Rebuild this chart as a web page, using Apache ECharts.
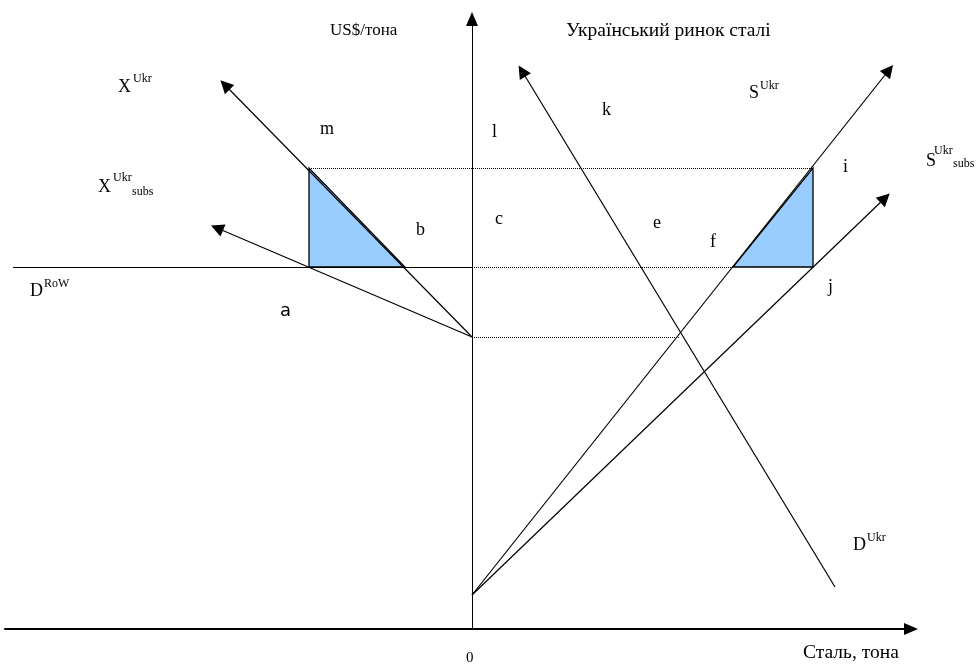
<!DOCTYPE html>
<html><head><meta charset="utf-8">
<script src="https://cdn.jsdelivr.net/npm/echarts@6/dist/echarts.min.js"></script>
<style>html,body{margin:0;padding:0;background:#fff}#c{width:977px;height:665px}</style>
</head><body><div id="c"></div>
<script>
// Schematic values (abstract units: quantity on x, price on y; 0 = axes origin)
const priceWorld = 362;      // D^RoW level
const priceSubs = 461;       // subsidised price level
const priceAutarky = 292;    // domestic equilibrium level
const supplyUkr = [[0, 34], [417, 559]];
const supplyUkrSubs = [[0, 34], [413, 431]];
const demandUkr = [[50, 558], [363, 42]];
const exportUkr = [[0, 292], [-247, 544]];
const exportUkrSubs = [[0, 292], [-255, 401]];
const demandRoW = [[-459, priceWorld], [0, priceWorld]];
const dottedLines = [
  [[-163, priceSubs], [341, priceSubs]],
  [[0, priceWorld], [261, priceWorld]],
  [[0, priceAutarky], [208, priceAutarky]]
];
const leftTriangle = [[-163, priceSubs], [-163, priceWorld], [-67, priceWorld]];
const rightTriangle = [[261, priceWorld], [341, priceWorld], [341, priceSubs]];
const triangles = [leftTriangle, rightTriangle];

const chart = echarts.init(document.getElementById('c'));
const SERIF = 'Liberation Serif';
function lbl(x, base, text, fs, fam) {
  return { type: 'text', x: x, y: base - 0.32 * fs, silent: true, z: 100,
    style: { text: text, fontSize: fs, fontFamily: fam || SERIF, fill: '#000', align: 'left', verticalAlign: 'middle' } };
}
const arrowLine = (coords) => ({ coords: coords });

chart.setOption({
  animation: false,
  backgroundColor: '#fff',
  grid: { left: 5, right: 66, top: 19, bottom: 36 },
  xAxis: {
    type: 'value', min: -467, max: 439,
    axisLine: { show: true, onZero: false, symbol: ['none', 'triangle'], symbolSize: [12, 14], lineStyle: { color: '#000', width: 2 } },
    axisTick: { show: false }, axisLabel: { show: false }, splitLine: { show: false }
  },
  yAxis: {
    type: 'value', min: 0, max: 610,
    axisLine: { show: true, onZero: true, symbol: ['none', 'triangle'], symbolSize: [12, 14], lineStyle: { color: '#000', width: 1 } },
    axisTick: { show: false }, axisLabel: { show: false }, splitLine: { show: false }
  },
  series: [
    {
      type: 'custom', coordinateSystem: 'cartesian2d', silent: true, z: 1,
      data: triangles.map((t, i) => i),
      renderItem: function (params, api) {
        const pts = triangles[params.dataIndex].map(p => api.coord(p));
        return { type: 'polygon', shape: { points: pts },
          style: { fill: '#99ccff', stroke: '#000', lineWidth: 1.3 } };
      }
    },
    {
      type: 'lines', coordinateSystem: 'cartesian2d', silent: true, z: 2,
      symbol: ['none', 'none'],
      lineStyle: { color: '#000', width: 1, type: 'dotted', opacity: 1 },
      data: dottedLines.map(arrowLine)
    },
    {
      type: 'lines', coordinateSystem: 'cartesian2d', silent: true, z: 3,
      symbol: ['none', 'none'],
      lineStyle: { color: '#000', width: 1.2, opacity: 1 },
      data: [demandRoW].map(arrowLine)
    },
    {
      type: 'lines', coordinateSystem: 'cartesian2d', silent: true, z: 3,
      symbol: ['none', 'triangle'], symbolSize: 13,
      lineStyle: { color: '#000', width: 1.2, opacity: 1 },
      data: [supplyUkr, supplyUkrSubs, exportUkr, exportUkrSubs].map(arrowLine)
    },
    {
      type: 'lines', coordinateSystem: 'cartesian2d', silent: true, z: 3,
      symbol: ['triangle', 'none'], symbolSize: 13,
      lineStyle: { color: '#000', width: 1.2, opacity: 1 },
      data: [demandUkr].map(arrowLine)
    }
  ],
  graphic: [
    lbl(330, 36, 'US$/тона', 17),
    lbl(566, 37, 'Український ринок сталі', 19.5),
    lbl(118, 93, 'X', 18), lbl(133, 83, 'Ukr', 12),
    lbl(98, 193, 'X', 18), lbl(113, 182, 'Ukr', 12), lbl(132, 196, 'subs', 12),
    lbl(30, 297, 'D', 18), lbl(44, 288, 'RoW', 12),
    lbl(749, 99, 'S', 18), lbl(760, 90, 'Ukr', 12),
    lbl(926, 167, 'S', 18), lbl(934, 155, 'Ukr', 12), lbl(953, 168, 'subs', 12),
    lbl(853, 551, 'D', 18), lbl(867, 542, 'Ukr', 12),
    lbl(320, 135, 'm', 18),
    lbl(416, 236, 'b', 18),
    lbl(492, 138, 'l', 18),
    lbl(602, 116, 'k', 18),
    lbl(495, 225, 'c', 18),
    lbl(653, 229, 'e', 18),
    lbl(710, 248, 'f', 18),
    lbl(843, 173, 'i', 18),
    lbl(828, 293, 'j', 18),
    lbl(280, 317, 'a', 18, 'DejaVu Sans'),
    lbl(466, 663, '0', 15),
    lbl(803, 659, 'Сталь, тона', 19.5)
  ]
});
</script></body></html>
